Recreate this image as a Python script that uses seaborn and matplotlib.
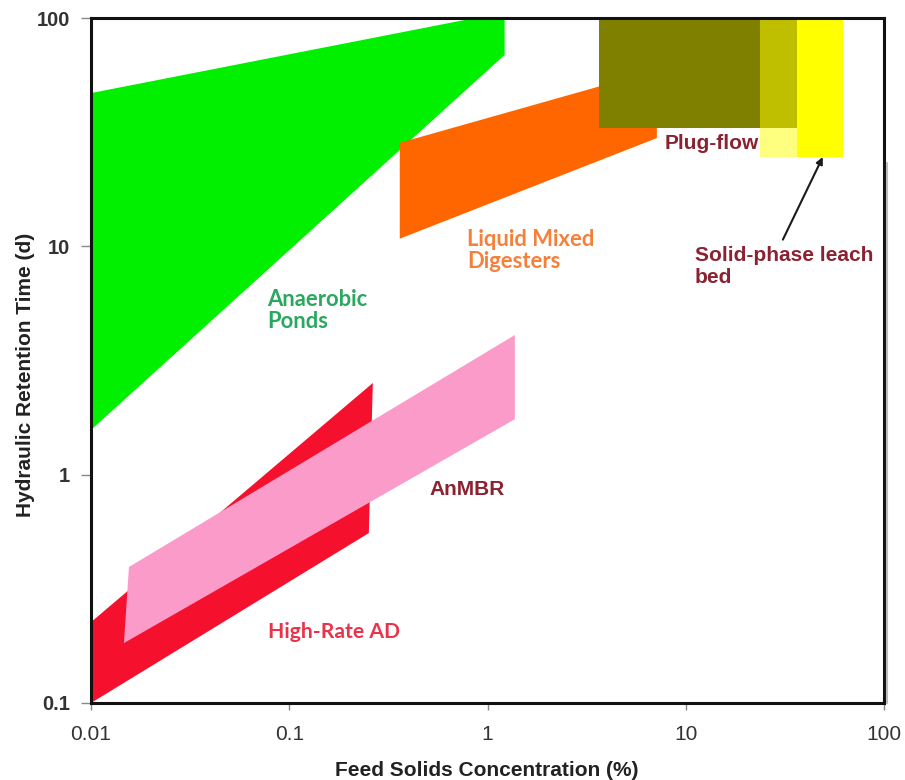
import matplotlib
matplotlib.use("Agg")
import matplotlib.pyplot as plt
from matplotlib.lines import Line2D
import seaborn as sns

# ---------------- data ----------------
# Feed solids concentration (%) / hydraulic retention time (d) polygon vertices
ponds_x = [0.01, 0.01, 0.863, 1.22, 1.22]
ponds_y = [1.57, 46.9, 100.0, 100.0, 68.9]

liquid_x = [0.361, 7.15, 7.15, 0.361]
liquid_y = [28.4, 59.1, 29.8, 10.8]

plug_x = [3.65, 36.3, 36.3, 3.65]
plug_y = [33.0, 33.0, 100.0, 100.0]

leach_light_x = [23.6, 36.3, 36.3, 23.6]
leach_light_y = [24.6, 24.6, 100.0, 100.0]

leach_x = [36.3, 62.0, 62.0, 36.3]
leach_y = [24.6, 24.6, 100.0, 100.0]

highrate_x = [0.01, 0.01, 0.264, 0.252]
highrate_y = [0.1, 0.226, 2.52, 0.555]

anmbr_x = [0.01466, 0.01554, 1.374, 1.374]
anmbr_y = [0.183, 0.394, 4.09, 1.75]

arrow_tail = (30.9, 10.7)
arrow_head = (49.1, 24.6)

x_ticks = [0.01, 0.1, 1, 10, 100]
x_tick_labels = ["0.01", "0.1", "1", "10", "100"]
y_ticks = [0.1, 1, 10, 100]
y_tick_labels = ["0.1", "1", "10", "100"]

x_label = "Feed Solids Concentration (%)"
y_label = "Hydraulic Retention Time (d)"

# ---------------- styling ----------------
sns.set_theme(style="white")
plt.rcParams["font.family"] = ["Liberation Sans", "DejaVu Sans"]

fig = plt.figure(figsize=(9.05, 7.8), dpi=100)
ax = fig.add_axes([91 / 905, 1 - 703 / 780, 793 / 905, 685 / 780])
ax.set_xscale("log")
ax.set_yscale("log")
ax.set_xlim(0.01, 100)
ax.set_ylim(0.1, 100)

ax.fill(ponds_x, ponds_y, color="#00f000", lw=0, zorder=1)
ax.fill(liquid_x, liquid_y, color="#ff6600", lw=0, zorder=2)
ax.fill(plug_x, plug_y, color="#808000", lw=0, zorder=3)
ax.fill(leach_light_x, leach_light_y, color="#ffff00", alpha=0.5, lw=0, zorder=4)
ax.fill(leach_x, leach_y, color="#ffff00", lw=0, zorder=4)
ax.fill(highrate_x, highrate_y, color="#f5102d", lw=0, zorder=2)
ax.fill(anmbr_x, anmbr_y, color="#fa9bca", lw=0, zorder=3)

ax.annotate("", xy=arrow_head, xytext=arrow_tail,
            arrowprops=dict(arrowstyle="-|>", color="#1a1a1a", lw=1.5,
                            mutation_scale=10, shrinkA=0, shrinkB=0),
            zorder=6)

lab_cal = dict(family=["Lato", "DejaVu Sans"], fontweight="bold", fontsize=15.8,
               va="top", ha="left", linespacing=1.05, zorder=7)
lab_ari = dict(family=["Liberation Sans", "DejaVu Sans"], fontweight="bold",
               fontsize=15, ha="left", linespacing=1.15, zorder=7)

ax.text(0.0772, 6.5, "Anaerobic\nPonds", color="#2aa860", **lab_cal)
ax.text(0.787, 11.9, "Liquid Mixed\nDigesters", color="#f5803a", **lab_cal)
ax.text(0.078, 0.226, "High-Rate AD", color="#e8334a",
        **{**lab_cal, "fontsize": 15.2})
ax.text(0.512, 0.947, "AnMBR", color="#8b2232", va="top", **lab_ari)
ax.text(7.85, 28.1, "Plug-flow", color="#8b2232", va="center", **lab_ari)
ax.text(11.1, 10.0, "Solid-phase leach\nbed", color="#8b2232", va="top", **lab_ari)

ax.set_xticks(x_ticks)
ax.set_xticklabels(x_tick_labels)
ax.set_yticks(y_ticks)
ax.set_yticklabels(y_tick_labels, fontweight="bold")
ax.minorticks_off()
ax.tick_params(axis="x", which="major", length=5, width=1, color="#888888",
               direction="out", pad=11, labelsize=15, labelcolor="#333333")
ax.tick_params(axis="y", which="major", length=7, width=1, color="#888888",
               direction="out", pad=8, labelsize=14.5, labelcolor="#333333")
ax.tick_params(bottom=True, left=True)

for s in ax.spines.values():
    s.set_color("#111111")
    s.set_linewidth(2.2)
    s.set_zorder(8)

ax.set_xlabel(x_label, fontsize=15, fontweight="bold", color="#222222", va="center")
ax.xaxis.set_label_coords(0.4994, -0.098)
ax.set_ylabel(y_label, fontsize=15, fontweight="bold", color="#222222", va="center")
ax.yaxis.set_label_coords(-0.083, 0.479)

# faint grey edge line to the right of the frame, as in the reference image
fig.add_artist(Line2D([887 / 905, 887 / 905], [1 - 163 / 780, 1 - 703 / 780],
                      transform=fig.transFigure, color="#bbbbbb", lw=1.5))

fig.savefig("out.png", dpi=100, facecolor="white")
